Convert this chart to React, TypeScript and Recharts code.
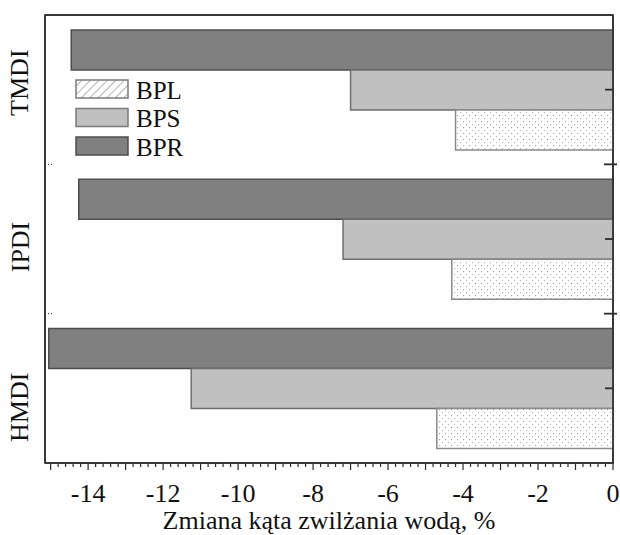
import { Bar, BarChart, Legend, ReferenceArea, XAxis, YAxis } from "recharts";

const categories = ["TMDI", "IPDI", "HMDI"];
const bprValues = [-14.45, -14.25, -15.05];
const bpsValues = [-7.0, -7.2, -11.25];
const bplValues = [-4.2, -4.3, -4.7];
const xTickLabels = [-14, -12, -10, -8, -6, -4, -2, 0];
const legendOrder = ["BPL", "BPS", "BPR"];

const data = categories.map((name, i) => ({
  name,
  BPR: bprValues[i],
  BPS: bpsValues[i],
  BPL: bplValues[i],
}));

// minor ticks every 0.2, major every 1
const axisTicks: number[] = [];
for (let i = -75; i <= 0; i++) axisTicks.push(Math.round(i * 2) / 10);

const X_MIN = -15.15;
const FONT = "'Liberation Serif', 'DejaVu Serif', serif";
const INK = "#2b2b2b";
// the category names sit a little off the band centres in the original
const labelShift = [-7, 8, 19];

function XTick({ x, y, payload }: any) {
  const v = payload.value as number;
  const major = Math.abs(v - Math.round(v)) < 1e-6;
  const labeled = major && xTickLabels.includes(Math.round(v));
  return (
    <g>
      <line x1={x} x2={x} y1={y} y2={y + (major ? 7 : 4)} stroke={INK} strokeWidth={1.2} />
      {labeled && (
        <text x={x} y={y + 39} textAnchor="middle" fontSize={26} fontFamily={FONT} fill="#111">
          {String(Math.round(v))}
        </text>
      )}
    </g>
  );
}

function LeftTick({ x, y, payload, index, height }: any) {
  const band = height / categories.length;
  const cy = y + (labelShift[index] ?? 0);
  return (
    <g>
      <text
        x={x - 25}
        y={cy}
        transform={`rotate(-90, ${x - 25}, ${cy})`}
        textAnchor="middle"
        dominantBaseline="central"
        fontSize={26}
        fontFamily={FONT}
        fill="#111"
      >
        {payload.value}
      </text>
      {index > 0 && (
        <line x1={x} x2={x + 7} y1={y - band / 2} y2={y - band / 2} stroke={INK} strokeDasharray="1 2" />
      )}
    </g>
  );
}

function RightTick({ x, y, index, height }: any) {
  const band = height / categories.length;
  return (
    <g>
      <line x1={x - 8} x2={x} y1={y} y2={y} stroke={INK} strokeWidth={1.8} />
      {index > 0 && (
        <line x1={x - 9} x2={x + 4} y1={y - band / 2} y2={y - band / 2} stroke={INK} strokeWidth={1.8} />
      )}
    </g>
  );
}

function LegendBox() {
  return (
    <svg width={130} height={84} style={{ display: "block" }}>
      <defs>
        <pattern id="hatch" width="6" height="6" patternUnits="userSpaceOnUse" patternTransform="rotate(45)">
          <rect width="6" height="6" fill="#fff" />
          <line x1="0" y1="0" x2="0" y2="6" stroke="#9a9a9a" strokeWidth="1.5" />
        </pattern>
      </defs>
      {legendOrder.map((k, i) => {
        const fill = k === "BPL" ? "url(#hatch)" : k === "BPS" ? "#c0c0c0" : "#808080";
        const stroke = k === "BPR" ? "#4d4d4d" : "#7a7a7a";
        return (
          <g key={k}>
            <rect x={1} y={2 + i * 28.5} width={52} height={18} fill={fill} stroke={stroke} strokeWidth={1.5} />
            <text x={61} y={12 + i * 28.5} dominantBaseline="central" fontSize={25} fontFamily={FONT} fill="#111">
              {k}
            </text>
          </g>
        );
      })}
    </svg>
  );
}

export default function App() {
  return (
    <div style={{ width: 620, height: 535 }}>
      <style>{"body{margin:0}"}</style>
      <BarChart
        width={620}
        height={535}
        data={data}
        layout="vertical"
        barCategoryGap="10%"
        barGap={0}
        margin={{ top: 14, right: 6, left: 0, bottom: 0 }}
      >
        <defs>
          <pattern id="dots" width="6" height="6" patternUnits="userSpaceOnUse">
            <rect width="6" height="6" fill="#fff" />
            <rect x="1" y="1" width="1.1" height="1.1" fill="#a0a0a0" />
            <rect x="4" y="4" width="1.1" height="1.1" fill="#b4b4b4" />
          </pattern>
        </defs>
        <Bar dataKey="BPR" fill="#808080" stroke="#4d4d4d" strokeWidth={1.5} isAnimationActive={false} />
        <Bar dataKey="BPS" fill="#c0c0c0" stroke="#6e6e6e" strokeWidth={1.5} isAnimationActive={false} />
        <Bar dataKey="BPL" fill="url(#dots)" stroke="#8a8a8a" strokeWidth={1.5} isAnimationActive={false} />
        <ReferenceArea x1={X_MIN} x2={0} fill="none" stroke={INK} strokeWidth={1.5} ifOverflow="visible" />
        <XAxis
          type="number"
          domain={[X_MIN, 0]}
          ticks={axisTicks}
          interval={0}
          allowDataOverflow
          height={72}
          tick={<XTick />}
          tickLine={false}
          tickSize={0}
          tickMargin={0}
          axisLine={{ stroke: INK, strokeWidth: 1.5 }}
          label={{
            value: "Zmiana kąta zwilżania wodą, %",
            position: "insideBottom",
            offset: 6,
            style: { fontSize: 26, fontFamily: FONT, fill: "#111" },
          }}
        />
        <XAxis
          xAxisId="top"
          orientation="top"
          type="number"
          domain={[X_MIN, 0]}
          allowDataOverflow
          height={1}
          tick={false}
          tickLine={false}
          axisLine={{ stroke: INK, strokeWidth: 1.5 }}
        />
        <YAxis
          type="category"
          dataKey="name"
          width={45}
          tick={<LeftTick />}
          tickLine={false}
          tickSize={0}
          tickMargin={0}
          axisLine={{ stroke: INK, strokeWidth: 1.5 }}
        />
        <YAxis
          yAxisId="right"
          orientation="right"
          type="category"
          dataKey="name"
          width={1}
          tick={<RightTick />}
          tickLine={false}
          tickSize={0}
          tickMargin={0}
          axisLine={{ stroke: INK, strokeWidth: 1.5 }}
        />
        <Legend
          layout="vertical"
          align="center"
          verticalAlign="middle"
          content={() => <LegendBox />}
          wrapperStyle={{ left: 75, top: 78, width: "auto", height: "auto" }}
        />
      </BarChart>
    </div>
  );
}
